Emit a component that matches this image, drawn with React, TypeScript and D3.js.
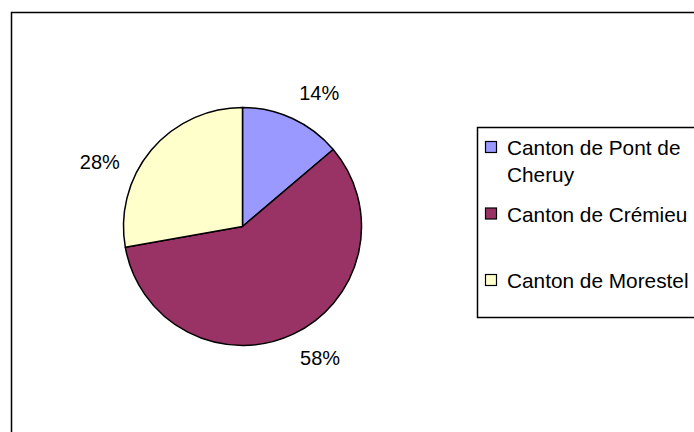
import * as d3 from "d3";

const WIDTH = 694;
const HEIGHT = 432;

// data
const cantons = ["Canton de Pont de Cheruy", "Canton de Crémieu", "Canton de Morestel"];
const shares = [13.8, 58.4, 27.8];
const colors = ["#9999FF", "#993366", "#FFFFCC"];

const FONT = "'Liberation Sans', Arial, sans-serif";
const FONT_SIZE = 20;
const LEGEND_FONT_SIZE = 20.8;

const CENTER = { x: 242.5, y: 226.5 };
const RADIUS = 119;
const LABEL_RADIUS = 147;
// Excel-like placement tweaks for the outside-end labels
const LABEL_NUDGE = [
  [15, 0],
  [15, -2],
  [-30, 30],
];

const LEGEND = { x: 477, y: 127, w: 240, h: 190, textX: 507, firstY: 147, lastY: 280, lineH: 27, maxW: 185 };

const measure = (() => {
  const ctx = document.createElement("canvas").getContext("2d");
  return (s: string) => {
    if (!ctx) return s.length * LEGEND_FONT_SIZE * 0.5;
    ctx.font = `${LEGEND_FONT_SIZE}px ${FONT}`;
    return ctx.measureText(s).width;
  };
})();

const wrap = (s: string, maxW: number) => {
  const words = s.split(" ");
  const lines: string[] = [];
  let cur = "";
  words.forEach((w) => {
    const t = cur ? cur + " " + w : w;
    if (measure(t) > maxW && cur) {
      lines.push(cur);
      cur = w;
    } else cur = t;
  });
  if (cur) lines.push(cur);
  return lines;
};

export default function App() {
  const pie = d3.pie<number>().sort(null).value((d) => d)(shares);
  const arc = d3.arc<d3.PieArcDatum<number>>().innerRadius(0).outerRadius(RADIUS);
  const labelArc = d3.arc<d3.PieArcDatum<number>>().innerRadius(LABEL_RADIUS).outerRadius(LABEL_RADIUS);
  const total = d3.sum(shares);

  const legendY = d3.scalePoint<string>().domain(cantons).range([LEGEND.firstY, LEGEND.lastY]);

  return (
    <svg
      width={WIDTH}
      height={HEIGHT}
      style={{ position: "absolute", left: 0, top: 0, background: "white", fontFamily: FONT }}
    >
      <rect x={0} y={0} width={WIDTH} height={HEIGHT} fill="white" />
      {/* outer chart area border */}
      <rect x={11.5} y={12.5} width={WIDTH + 20} height={HEIGHT + 20} fill="none" stroke="black" strokeWidth={1.5} />

      <g transform={`translate(${CENTER.x},${CENTER.y})`}>
        {pie.map((p, i) => (
          <path key={i} d={arc(p) || ""} fill={colors[i]} stroke="black" strokeWidth={1.5} strokeLinejoin="round" />
        ))}
        {pie.map((p, i) => {
          const [cx, cy] = labelArc.centroid(p);
          return (
            <text
              key={"l" + i}
              x={cx + LABEL_NUDGE[i][0]}
              y={cy + LABEL_NUDGE[i][1]}
              textAnchor="middle"
              dominantBaseline="central"
              fontSize={FONT_SIZE}
              fill="black"
            >
              {Math.round((p.value / total) * 100) + "%"}
            </text>
          );
        })}
      </g>

      {/* legend */}
      <rect x={LEGEND.x + 0.5} y={LEGEND.y + 0.5} width={LEGEND.w} height={LEGEND.h} fill="white" stroke="black" strokeWidth={1.5} />
      {cantons.map((c, i) => {
        const y = legendY(c) ?? 0;
        const lines = wrap(c, LEGEND.maxW);
        return (
          <g key={c}>
            <rect x={485.5} y={y - 5.5} width={11} height={11} fill={colors[i]} stroke="black" strokeWidth={1.2} />
            <text x={LEGEND.textX} y={y} fontSize={LEGEND_FONT_SIZE} fill="black" dominantBaseline="central">
              {lines.map((l, j) => (
                <tspan key={j} x={LEGEND.textX} dy={j === 0 ? 0 : LEGEND.lineH}>
                  {l}
                </tspan>
              ))}
            </text>
          </g>
        );
      })}
    </svg>
  );
}
